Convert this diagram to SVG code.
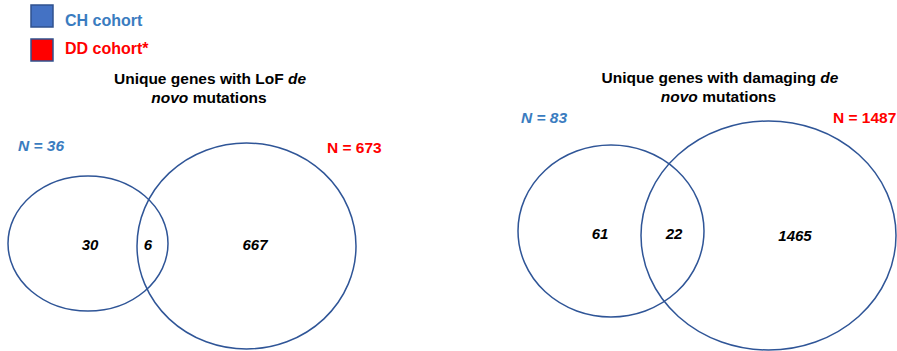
<svg xmlns="http://www.w3.org/2000/svg" width="897" height="351" viewBox="0 0 897 351">
<style>
.c{fill:none;stroke:#2F5597;stroke-width:1.5}
text{font-family:"Liberation Sans",Arial,sans-serif;font-weight:bold}
.t{font-size:15.5px;fill:#000;text-anchor:middle}
.n{font-size:15px;font-style:italic;fill:#000;text-anchor:middle}
.blue{fill:#3A7CC0}
.red{fill:#FF0000}
.lg{font-size:16px}
.nl{font-size:15.5px}
</style>
<rect width="897" height="351" fill="#fff"/>
<g id="legend">
<rect x="31" y="5" width="22" height="22" fill="#4472C4" stroke="#2F528F" stroke-width="1.5"/>
<text class="lg blue" x="65" y="26">CH cohort</text>
<rect x="31" y="39" width="22" height="22" fill="#FF0000" stroke="#2F528F" stroke-width="1.5"/>
<text class="lg red" x="65" y="54">DD cohort*</text>
</g>
<g id="lof">
<text class="t" x="210" y="84">Unique genes with LoF <tspan font-style="italic">de</tspan></text>
<text class="t" x="209" y="103"><tspan font-style="italic">novo</tspan> mutations</text>
<ellipse id="lof-ch" class="c" cx="88" cy="243.5" rx="80" ry="67.5"/>
<ellipse id="lof-dd" class="c" cx="246.5" cy="246" rx="109.5" ry="103"/>
<text class="nl blue" x="18" y="151" font-style="italic">N = 36</text>
<text class="nl red" x="327" y="153">N = 673</text>
<text class="n" x="90" y="250">30</text>
<text class="n" x="148" y="250">6</text>
<text class="n" x="255" y="250">667</text>
</g>
<g id="damaging">
<text class="t" x="720" y="83">Unique genes with damaging <tspan font-style="italic">de</tspan></text>
<text class="t" x="718.5" y="102"><tspan font-style="italic">novo</tspan> mutations</text>
<ellipse id="dam-ch" class="c" cx="611" cy="231" rx="93" ry="86"/>
<ellipse id="dam-dd" class="c" cx="768.5" cy="235.5" rx="127.5" ry="114.5"/>
<text class="nl blue" x="521" y="123" font-style="italic">N = 83</text>
<text class="nl red" x="833" y="123">N = 1487</text>
<text class="n" x="600" y="239">61</text>
<text class="n" x="674" y="239">22</text>
<text class="n" x="795" y="241">1465</text>
</g>
<g id="connectors"/>
</svg>
